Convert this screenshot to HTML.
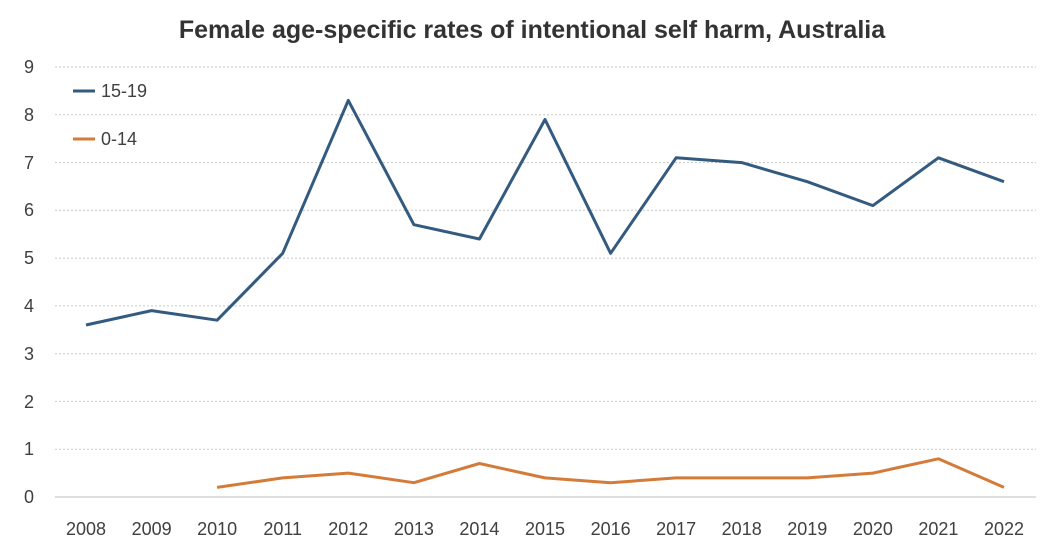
<!DOCTYPE html>
<html><head><meta charset="utf-8"><style>
body{margin:0;background:#fff;}
svg{display:block;font-family:"Liberation Sans",sans-serif;}
</style></head><body>
<svg width="1064" height="555" viewBox="0 0 1064 555">
<rect width="1064" height="555" fill="#fff"/>
<text x="532" y="38" text-anchor="middle" font-size="25" font-weight="bold" fill="#333">Female age-specific rates of intentional self harm, Australia</text>
<g stroke="#c8c8c8" stroke-width="1" stroke-dasharray="2,2">
<line x1="55" x2="1036" y1="67" y2="67"/>
<line x1="55" x2="1036" y1="114.8" y2="114.8"/>
<line x1="55" x2="1036" y1="162.6" y2="162.6"/>
<line x1="55" x2="1036" y1="210.3" y2="210.3"/>
<line x1="55" x2="1036" y1="258.1" y2="258.1"/>
<line x1="55" x2="1036" y1="305.9" y2="305.9"/>
<line x1="55" x2="1036" y1="353.7" y2="353.7"/>
<line x1="55" x2="1036" y1="401.4" y2="401.4"/>
<line x1="55" x2="1036" y1="449.2" y2="449.2"/>
</g>
<line x1="55" x2="1036" y1="497" y2="497" stroke="#bfbfbf" stroke-width="1"/>
<g font-size="18" fill="#404040" text-anchor="end">
<text x="34" y="73">9</text><text x="34" y="121">8</text><text x="34" y="169">7</text>
<text x="34" y="216">6</text><text x="34" y="264">5</text><text x="34" y="312">4</text>
<text x="34" y="360">3</text><text x="34" y="408">2</text><text x="34" y="455">1</text>
<text x="34" y="503">0</text>
</g>
<g font-size="18" fill="#404040" text-anchor="middle">
<text x="86" y="535">2008</text><text x="151.6" y="535">2009</text><text x="217.1" y="535">2010</text>
<text x="282.7" y="535">2011</text><text x="348.3" y="535">2012</text><text x="413.9" y="535">2013</text>
<text x="479.4" y="535">2014</text><text x="545" y="535">2015</text><text x="610.6" y="535">2016</text>
<text x="676.1" y="535">2017</text><text x="741.7" y="535">2018</text><text x="807.3" y="535">2019</text>
<text x="872.9" y="535">2020</text><text x="938.4" y="535">2021</text><text x="1004" y="535">2022</text>
</g>
<polyline fill="none" stroke="#335b7f" stroke-width="3" stroke-linejoin="round" points="86,325 151.6,310.6 217.1,320.2 282.7,253.3 348.3,100.4 413.9,224.7 479.4,239 545,119.5 610.6,253.3 676.1,157.8 741.7,162.6 807.3,181.7 872.9,205.6 938.4,157.8 1004,181.7"/>
<polyline fill="none" stroke="#d47b3a" stroke-width="3" stroke-linejoin="round" points="217.1,487.4 282.7,477.9 348.3,473.1 413.9,482.7 479.4,463.5 545,477.9 610.6,482.7 676.1,477.9 741.7,477.9 807.3,477.9 872.9,473.1 938.4,458.8 1004,487.4"/>
<line x1="73" x2="95" y1="91" y2="91" stroke="#335b7f" stroke-width="3"/>
<text x="101" y="97" font-size="18" fill="#404040">15-19</text>
<line x1="73" x2="95" y1="139" y2="139" stroke="#d47b3a" stroke-width="3"/>
<text x="101" y="145" font-size="18" fill="#404040">0-14</text>
</svg>
</body></html>
